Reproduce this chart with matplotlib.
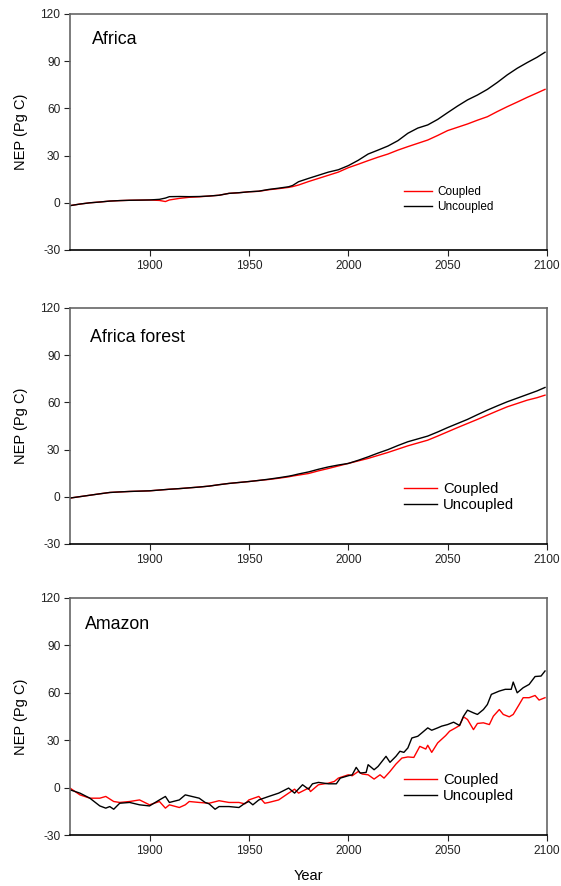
import matplotlib
matplotlib.use("Agg")
import matplotlib.pyplot as plt

plt.rcParams['font.family'] = ['Liberation Sans', 'DejaVu Sans']
plt.rcParams['axes.unicode_minus'] = False

# ---------------- data ----------------
years_af = [1860, 1865, 1870, 1875, 1880, 1885, 1890, 1895, 1900, 1905, 1908, 1910, 1915,
            1920, 1925, 1930, 1935, 1940, 1945, 1950, 1955, 1960, 1965, 1970, 1972, 1975,
            1980, 1985, 1990, 1995, 2000, 2005, 2010, 2015, 2020, 2025, 2030, 2035, 2040,
            2045, 2050, 2055, 2060, 2065, 2070, 2075, 2080, 2085, 2090, 2095, 2099]
africa_uncoupled = [-1.8, -0.8, 0.0, 0.5, 1.1, 1.4, 1.6, 1.7, 1.8, 2.2, 3.0, 3.9, 4.0,
                    3.9, 4.0, 4.3, 4.8, 6.0, 6.4, 7.0, 7.4, 8.5, 9.3, 10.2, 11.0, 13.4,
                    15.5, 17.5, 19.5, 21.0, 23.6, 27.0, 31.0, 33.5, 36.1, 39.5, 44.2, 47.5, 49.5,
                    53.0, 57.3, 61.5, 65.4, 68.5, 72.1, 76.5, 81.3, 85.5, 89.1, 92.5, 95.7]
africa_coupled = [-1.8, -0.8, 0.0, 0.5, 1.1, 1.4, 1.6, 1.7, 1.8, 1.5, 0.8, 1.8, 2.8,
                  3.5, 3.8, 4.3, 4.8, 6.0, 6.4, 7.0, 7.3, 8.3, 9.0, 9.8, 10.3, 11.3,
                  13.5, 15.5, 17.5, 19.5, 22.3, 24.5, 26.8, 29.0, 31.0, 33.5, 35.7, 37.8, 39.9,
                  42.8, 45.9, 48.0, 50.1, 52.5, 54.7, 58.0, 61.1, 64.0, 67.0, 69.8, 72.1]

forest_uncoupled = [-0.8, 0.1, 1.0, 1.9, 2.75, 3.1, 3.4, 3.6, 3.8, 4.3, 4.6, 4.8, 5.2,
                    5.7, 6.2, 6.8, 7.7, 8.5, 9.1, 9.7, 10.4, 11.2, 12.1, 13.1, 13.6, 14.5,
                    15.8, 17.5, 19.0, 20.2, 21.2, 23.2, 25.4, 27.8, 30.0, 32.6, 35.0, 36.8, 38.6,
                    41.2, 44.0, 46.6, 49.2, 52.2, 55.1, 57.8, 60.4, 62.7, 65.0, 67.3, 69.5]
forest_coupled = [-0.8, 0.1, 1.0, 1.9, 2.75, 3.1, 3.4, 3.6, 3.8, 4.3, 4.6, 4.8, 5.2,
                  5.7, 6.2, 6.8, 7.7, 8.5, 9.1, 9.7, 10.4, 11.0, 11.8, 12.7, 13.2, 13.8,
                  14.8, 16.5, 18.0, 19.6, 21.2, 22.8, 24.4, 26.3, 28.2, 30.3, 32.4, 34.2, 36.0,
                  38.6, 41.3, 44.0, 46.6, 49.2, 51.9, 54.6, 57.2, 59.3, 61.4, 63.0, 64.6]

years_am_unc = [1860, 1865, 1870, 1875, 1878, 1880, 1882, 1885, 1890, 1895, 1900, 1905, 1908,
                1910, 1915, 1918, 1920, 1925, 1928, 1930, 1933, 1935, 1940, 1945, 1948, 1950,
                1952, 1955, 1960, 1965, 1970, 1973, 1977, 1980, 1982, 1985, 1990, 1994, 1996,
                2000, 2002, 2004, 2006, 2009, 2010, 2013, 2015, 2017, 2019, 2021, 2024, 2026,
                2028, 2030, 2032, 2035, 2037, 2040, 2042, 2045, 2047, 2050, 2053, 2056, 2058,
                2060, 2063, 2065, 2068, 2070, 2072, 2076, 2079, 2082, 2083, 2085, 2088, 2091,
                2094, 2097, 2099]
amazon_uncoupled = [-1.4, -3.5, -6.7, -11.6, -13.0, -12.0, -13.7, -9.9, -9.4, -10.9, -11.6, -7.8, -5.6,
                    -9.4, -7.8, -4.6, -5.2, -6.7, -9.4, -10.3, -13.7, -12.0, -12.0, -12.6, -9.9, -8.8,
                    -10.9, -7.8, -5.6, -3.5, -0.3, -3.5, 1.8, -1.0, 2.4, 3.3, 2.4, 2.4, 6.0,
                    7.5, 8.1, 12.8, 9.2, 9.6, 14.5, 11.3, 13.4, 16.6, 19.8, 16.0, 19.8, 23.0,
                    22.3, 25.1, 31.4, 32.5, 34.6, 37.8, 36.3, 37.8, 38.9, 39.9, 41.4, 39.3, 45.2,
                    49.0, 47.3, 46.3, 49.4, 52.6, 59.0, 61.1, 62.2, 62.2, 66.8, 60.0, 63.2, 65.3,
                    70.3, 70.6, 73.8]

years_am_cpl = [1860, 1865, 1870, 1875, 1878, 1882, 1885, 1890, 1895, 1900, 1905, 1908, 1910,
                1915, 1918, 1920, 1925, 1930, 1935, 1940, 1945, 1948, 1950, 1955, 1958, 1960,
                1965, 1970, 1973, 1975, 1980, 1981, 1985, 1990, 1993, 1995, 2000, 2002, 2005,
                2007, 2010, 2013, 2016, 2018, 2021, 2024, 2027, 2030, 2033, 2036, 2039, 2040,
                2042, 2045, 2049, 2051, 2054, 2056, 2058, 2060, 2063, 2065, 2068, 2071, 2073,
                2076, 2078, 2081, 2083, 2086, 2088, 2091, 2094, 2096, 2099]
amazon_coupled = [-0.3, -4.6, -6.7, -6.7, -5.6, -8.8, -9.4, -8.8, -7.8, -10.9, -8.8, -13.0, -10.9,
                  -12.6, -10.9, -8.8, -9.4, -9.9, -8.3, -9.4, -9.4, -10.3, -7.8, -5.6, -9.9, -9.4,
                  -7.8, -3.5, -1.0, -3.5, -0.3, -2.5, 1.8, 2.8, 3.9, 6.0, 8.1, 7.5, 10.2,
                  8.6, 8.1, 5.4, 8.1, 6.0, 10.2, 14.9, 18.7, 19.4, 19.1, 26.1, 24.4, 26.8,
                  22.3, 28.3, 32.9, 35.7, 37.8, 39.3, 44.8, 43.1, 36.7, 40.6, 41.0, 39.9, 45.2,
                  49.4, 46.3, 44.8, 46.3, 52.6, 56.9, 56.9, 58.3, 55.4, 56.9]

panels = [
    ("Africa", years_af, africa_coupled, years_af, africa_uncoupled),
    ("Africa forest", years_af, forest_coupled, years_af, forest_uncoupled),
    ("Amazon", years_am_cpl, amazon_coupled, years_am_unc, amazon_uncoupled),
]
legend_labels = ["Coupled", "Uncoupled"]
xticks = [1900, 1950, 2000, 2050, 2100]
yticks = [-30, 0, 30, 60, 90, 120]

# ---------------- figure ----------------
W, H = 561, 886
fig = plt.figure(figsize=(W / 100, H / 100), dpi=100)

axes_px = [(14, 250), (308, 544), (598, 835)]  # top, bottom in pixels
left_px, right_px = 70, 547
legend_fs = [8.5, 10.7, 10.7]
legend_hl = [2.4, 2.2, 2.2]
legend_ls = [0.25, 0.15, 0.15]
legend_cy = [0.212, 0.198, 0.198]
title_pos = [(0.046, 0.892), (0.042, 0.873), (0.031, 0.89)]

for i, ((title, yc, vc, yu, vu), (t, b)) in enumerate(zip(panels, axes_px)):
    ax = fig.add_axes([left_px / W, 1 - b / H, (right_px - left_px) / W, (b - t) / H])
    ax.plot(yc, vc, color="#ff0000", lw=1.0, label=legend_labels[0])
    ax.plot(yu, vu, color="#000000", lw=1.0, label=legend_labels[1])
    ax.set_xlim(1860, 2100)
    ax.set_ylim(-30, 120)
    ax.set_xticks(xticks)
    ax.set_yticks(yticks)
    ax.tick_params(direction="out", length=4, width=0.8, labelsize=8.6,
                   colors="#222222", pad=3)
    for s in ["top", "right", "left"]:
        ax.spines[s].set_color("#666666")
        ax.spines[s].set_linewidth(1.2)
    ax.spines["bottom"].set_color("#000000")
    ax.spines["bottom"].set_linewidth(1.2)
    ax.set_ylabel("NEP (Pg C)", fontsize=10.5, labelpad=9)
    ax.text(title_pos[i][0], title_pos[i][1], title, transform=ax.transAxes,
            fontsize=12.8, ha="left", va="center")
    ax.legend(loc="center left", bbox_to_anchor=(0.70, legend_cy[i]), frameon=False,
              fontsize=legend_fs[i], handlelength=legend_hl[i], handletextpad=0.45,
              labelspacing=legend_ls[i], borderaxespad=0, borderpad=0)
    if i == 2:
        ax.set_xlabel("Year", fontsize=10.5, labelpad=9)

fig.savefig("out.png", dpi=100)
